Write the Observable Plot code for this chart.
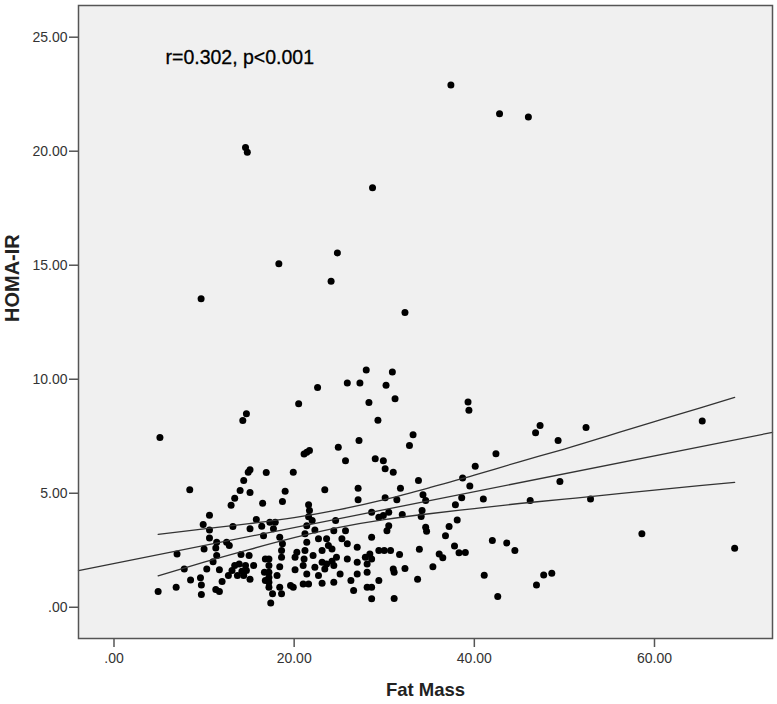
<!DOCTYPE html>
<html>
<head>
<meta charset="utf-8">
<script src="https://cdn.jsdelivr.net/npm/d3@7"></script>
<script src="https://cdn.jsdelivr.net/npm/@observablehq/plot@0.6"></script>
<style>
  html, body { margin: 0; padding: 0; background: #ffffff; }
  #chart { width: 777px; height: 704px; }
</style>
</head>
<body>
<div id="chart"></div>
<script>
// ---- Data ----
const fatMass = [
  5.1,14.6,14.8,28.7,37.4,42.8,46.0,9.67,18.3,24.1,24.8,32.3,
  14.3,14.7,20.5,22.6,25.9,27.3,28.0,28.3,29.3,30.2,30.9,31.2,
  39.3,39.4,46.8,47.3,52.4,65.3,49.3,49.5,52.9,58.6,68.9,47.7,48.6,
  8.41,15.1,14.9,16.9,14.4,14.0,15.1,13.4,13.0,16.5,10.6,9.9,10.6,10.6,13.2,15.8,15.1,16.4,16.6,17.3,17.7,
  11.4,11.3,10.0,12.5,12.8,7.0,11.4,14.1,15.0,11.0,7.8,10.3,11.7,13.4,13.9,14.6,15.5,13.1,14.2,14.7,
  12.7,13.7,14.4,15.1,8.5,9.6,9.7,12.0,6.9,4.9,11.3,11.7,9.7,16.8,17.2,17.2,17.2,17.2,17.2,17.2,16.7,16.8,17.6,17.4,
  21.1,21.4,21.7,24.9,27.2,25.7,29.0,29.9,30.1,31.0,19.9,19.0,18.7,23.4,27.1,27.1,30.1,21.6,21.7,21.6,
  28.6,29.4,29.9,30.5,17.9,22.0,24.6,21.4,24.4,25.7,22.3,30.3,18.4,21.2,22.7,23.6,25.3,28.6,
  18.7,21.4,23.8,25.9,27.0,18.6,20.3,21.2,23.1,24.2,29.4,30.0,30.7,28.4,18.6,20.1,21.1,22.1,24.7,25.9,27.9,28.6,
  23.1,23.6,24.2,18.4,21.0,22.3,23.4,24.4,27.0,28.1,31.0,18.1,20.1,21.4,22.7,25.1,27.0,28.1,
  19.6,19.9,18.4,21.0,21.6,23.1,24.4,26.3,28.1,28.6,29.4,18.6,26.6,28.6,
  32.8,33.2,42.4,40.1,33.8,31.8,38.7,39.5,31.4,34.3,34.6,38.6,41.0,37.9,32.0,34.2,34.1,38.1,30.5,34.6,34.7,37.2,36.8,
  37.8,38.3,39.0,42.0,43.6,44.5,31.7,33.9,36.1,36.5,35.4,31.1,32.3,33.7,41.1,31.1,42.6,
  46.2,46.9
];
const homaIR = [
  7.44,20.16,19.95,18.4,22.9,21.64,21.5,13.53,15.07,14.3,15.54,12.93,
  8.19,8.49,8.93,9.64,9.83,9.83,10.41,8.98,8.2,9.74,10.32,9.14,
  9.0,8.64,7.65,7.97,7.88,8.17,7.31,5.51,4.75,3.22,2.59,1.42,1.49,
  5.15,6.03,5.92,5.91,5.56,5.12,5.03,4.78,4.47,4.56,4.04,3.63,3.39,3.04,3.54,3.85,3.44,3.55,3.14,3.73,3.44,
  2.85,2.6,2.56,2.85,2.71,2.34,2.27,2.31,2.27,2.0,1.68,1.68,1.64,1.83,1.9,1.83,1.83,1.61,1.58,1.61,
  1.39,1.39,1.39,1.23,1.2,1.29,0.98,1.13,0.88,0.69,0.78,0.69,0.56,2.12,2.12,1.83,1.54,1.31,1.1,0.88,1.54,1.17,0.59,0.19,
  6.72,6.8,6.87,7.02,7.31,6.43,6.51,6.43,6.07,5.92,5.92,5.09,4.64,5.15,5.22,4.71,4.8,4.5,4.24,3.97,
  4.17,3.95,4.02,4.17,3.73,3.8,3.8,3.58,3.36,3.36,3.39,3.36,3.07,3.22,3.0,3.0,3.0,3.07,
  2.78,2.85,2.71,2.78,2.63,2.49,2.41,2.49,2.49,2.56,2.49,2.49,2.49,2.34,2.19,2.19,2.12,2.27,2.19,2.12,2.19,2.12,
  1.97,1.9,2.02,1.78,1.83,1.75,1.68,1.83,1.97,1.9,1.68,1.39,1.64,1.46,1.39,1.46,1.46,1.54,
  0.95,0.88,0.88,1.02,1.02,1.05,1.1,1.17,0.88,0.88,1.17,0.59,0.73,0.37,
  7.09,7.57,6.73,6.18,5.56,5.22,5.67,5.32,4.72,4.93,4.68,4.8,4.75,4.5,4.07,4.24,3.98,3.83,3.58,3.51,3.33,3.54,3.14,
  2.69,2.39,2.4,2.93,2.82,2.49,2.31,2.54,2.34,2.17,1.78,1.54,1.7,1.23,1.4,0.38,0.47,
  4.68,0.98
];

// Fit line (drawn across the whole frame) and 95% mean-confidence band
const fitX = [-3.94, 73.1];
const fitY = [1.61, 7.67];
const bandX     = [4.9, 10, 15, 20, 25, 30, 35, 40, 45, 50, 55, 60, 65, 68.9];
const bandUpper = [3.20, 3.44, 3.67, 3.93, 4.28, 4.72, 5.24, 5.79, 6.38, 6.94, 7.54, 8.14, 8.73, 9.20];
const bandLower = [1.38, 1.98, 2.53, 3.05, 3.50, 3.84, 4.10, 4.33, 4.55, 4.74, 4.94, 5.14, 5.33, 5.48];

const xTicks = [0, 20, 40, 60];
const yTicks = [0, 5, 10, 15, 20, 25];
const xDomain = [-3.94, 73.1];
const yDomain = [-1.37, 26.39];

const annotation = "r=0.302, p<0.001";
const xLabel = "Fat Mass";
const yLabel = "HOMA-IR";

// ---- Build tables ----
const points = fatMass.map((x, i) => ({x, y: homaIR[i]}));
const fit = fitX.map((x, i) => ({x, y: fitY[i]}));
const upper = bandX.map((x, i) => ({x, y: bandUpper[i]}));
const lower = bandX.map((x, i) => ({x, y: bandLower[i]}));

const fmt = d => d === 0 ? ".00" : d.toFixed(2);
const font = "'Liberation Sans', Arial, sans-serif";

const chart = Plot.plot({
  width: 777,
  height: 704,
  marginLeft: 78,
  marginRight: 5,
  marginTop: 5,
  marginBottom: 66,
  style: { background: "#ffffff", fontFamily: font, color: "#333" },
  x: { domain: xDomain },
  y: { domain: yDomain },
  marks: [
    Plot.frame({ fill: "#f0f0f0", stroke: null }),
    Plot.dot(points, { x: "x", y: "y", r: 3.5, fill: "#000", stroke: null }),
    Plot.line(fit, { x: "x", y: "y", stroke: "#333", strokeWidth: 1.3 }),
    Plot.line(upper, { x: "x", y: "y", stroke: "#333", strokeWidth: 1.3, curve: "natural" }),
    Plot.line(lower, { x: "x", y: "y", stroke: "#333", strokeWidth: 1.3, curve: "natural" }),
    Plot.frame({ stroke: "#555", strokeWidth: 1.5 }),
    Plot.axisX({ ticks: xTicks, tickFormat: fmt, tickSize: 9, tickPadding: 6, fontSize: 14, label: null, stroke: "#555", strokeWidth: 1.5, fill: "#333" }),
    Plot.axisY({ ticks: yTicks, tickFormat: fmt, tickSize: 9, tickPadding: 2, fontSize: 14, label: null, stroke: "#555", strokeWidth: 1.5, fill: "#333" }),
    Plot.text([annotation], { frameAnchor: "top-left", dx: 87, dy: 52, text: d => d, textAnchor: "start", lineAnchor: "middle", fontSize: 19.5, fill: "#000", stroke: "#000", strokeWidth: 0.3 }),
    Plot.text([xLabel], { frameAnchor: "bottom", dy: 52, text: d => d, lineAnchor: "middle", fontSize: 18.5, fontWeight: "bold", fill: "#222" }),
    Plot.text([yLabel], { frameAnchor: "left", dx: -66, text: d => d, rotate: -90, lineAnchor: "middle", fontSize: 20, fontWeight: "bold", fill: "#222" })
  ]
});
document.getElementById("chart").appendChild(chart);
</script>
</body>
</html>
